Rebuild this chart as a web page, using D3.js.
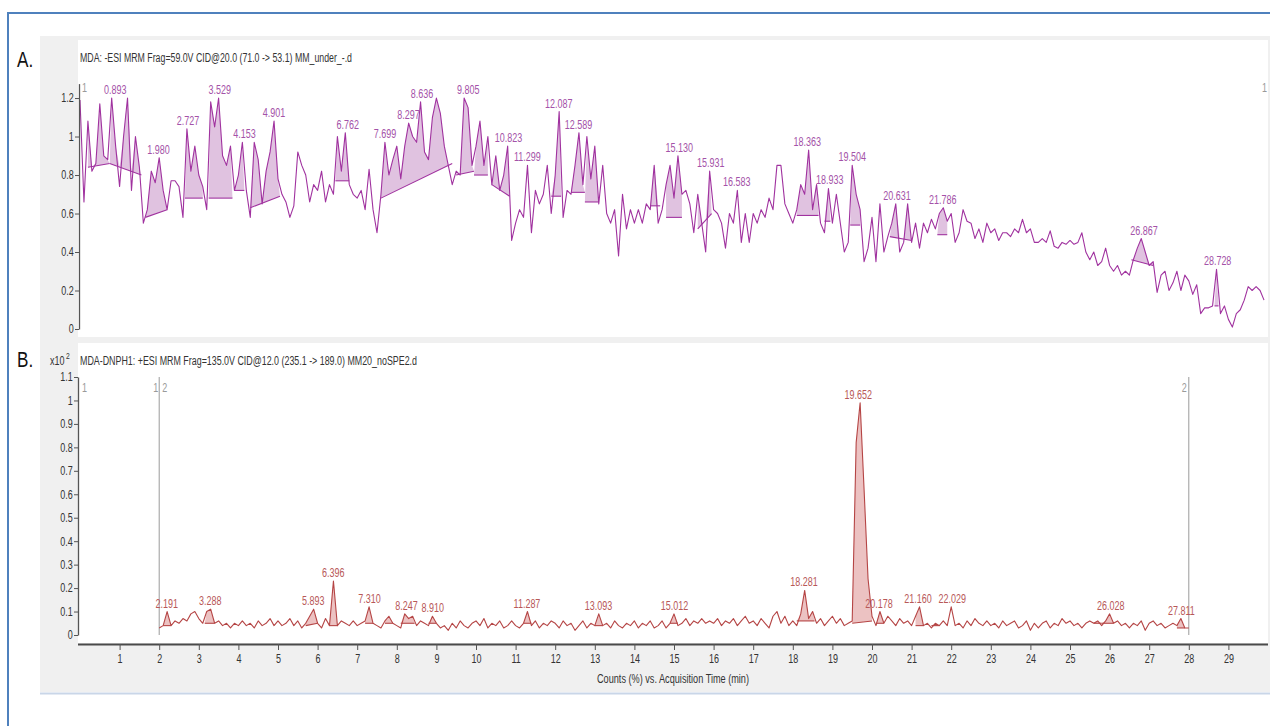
<!DOCTYPE html>
<html>
<head>
<meta charset="utf-8">
<script src="https://cdn.jsdelivr.net/npm/d3@7"></script>
<style>
  body { margin: 0; background: #fff; }
  svg { display: block; }
  text { font-family: "Liberation Sans", Arial, sans-serif; }
</style>
</head>
<body>
<svg id="chart" width="1270" height="726"></svg>
<script>
// Sampling interval of both traces (min)
const timeStep = 0.1;

// Trace A: MDA, -ESI MRM 71.0 -> 53.1, counts (%) from 0.0 min
const mdaStart = 0.0;
const mdaCounts = [
  1.19, 0.66, 1.08, 0.82, 0.86, 1.17, 0.90, 0.88, 1.20, 0.95,
  0.74, 1.00, 1.20, 0.72, 1.00, 0.84, 0.55, 0.62, 0.82, 0.76,
  0.89, 0.72, 0.62, 0.77, 0.77, 0.74, 0.58, 1.04, 0.82, 0.95,
  0.80, 0.74, 0.62, 1.18, 1.05, 1.20, 0.90, 0.85, 0.95, 0.72,
  0.80, 0.97, 0.72, 0.58, 0.97, 0.88, 0.65, 0.82, 0.92, 1.08,
  0.78, 0.70, 0.66, 0.58, 0.64, 0.92, 0.85, 0.80, 0.66, 0.75,
  0.72, 0.82, 0.66, 0.75, 0.70, 1.00, 0.82, 1.02, 0.75, 0.70,
  0.68, 0.72, 0.62, 0.83, 0.62, 0.50, 0.70, 0.97, 0.80, 0.88,
  0.95, 0.78, 0.95, 1.07, 1.00, 0.97, 1.18, 0.92, 0.88, 1.10,
  1.20, 1.12, 0.95, 0.85, 0.75, 0.82, 0.80, 1.20, 1.15, 0.85,
  0.95, 1.08, 0.85, 1.00, 0.75, 0.90, 0.72, 0.80, 0.95, 0.46,
  0.55, 0.62, 0.58, 0.85, 0.50, 0.72, 0.65, 0.70, 0.85, 0.60,
  0.80, 1.13, 0.58, 0.72, 0.70, 0.85, 1.02, 0.75, 1.00, 0.78,
  0.95, 0.65, 0.85, 0.60, 0.55, 0.62, 0.38, 0.70, 0.52, 0.62,
  0.55, 0.62, 0.55, 0.65, 0.62, 0.85, 0.55, 0.62, 0.75, 0.85,
  0.68, 0.90, 0.70, 0.72, 0.65, 0.50, 0.70, 0.55, 0.40, 0.82,
  0.62, 0.60, 0.55, 0.42, 0.60, 0.55, 0.72, 0.45, 0.60, 0.45,
  0.60, 0.55, 0.62, 0.58, 0.68, 0.62, 0.85, 0.85, 0.65, 0.60,
  0.55, 0.62, 0.75, 0.70, 0.93, 0.62, 0.75, 0.55, 0.50, 0.73,
  0.55, 0.70, 0.55, 0.40, 0.45, 0.85, 0.70, 0.62, 0.35, 0.42,
  0.58, 0.35, 0.65, 0.40, 0.48, 0.55, 0.65, 0.40, 0.45, 0.65,
  0.45, 0.55, 0.42, 0.55, 0.50, 0.57, 0.52, 0.60, 0.63, 0.56,
  0.60, 0.45, 0.50, 0.62, 0.56, 0.55, 0.47, 0.52, 0.45, 0.55,
  0.50, 0.52, 0.46, 0.50, 0.50, 0.48, 0.52, 0.50, 0.57, 0.50,
  0.52, 0.45, 0.45, 0.47, 0.45, 0.51, 0.43, 0.42, 0.45, 0.44,
  0.46, 0.44, 0.45, 0.50, 0.40, 0.36, 0.40, 0.33, 0.35, 0.42,
  0.33, 0.30, 0.33, 0.28, 0.30, 0.28, 0.36, 0.42, 0.47, 0.40,
  0.33, 0.35, 0.19, 0.28, 0.30, 0.20, 0.24, 0.30, 0.20, 0.28,
  0.25, 0.18, 0.23, 0.08, 0.11, 0.11, 0.12, 0.31, 0.08, 0.12,
  0.05, 0.01, 0.08, 0.10, 0.15, 0.22, 0.20, 0.22, 0.20, 0.15
];

// Integrated peaks of trace A: [start, end, baseline at start, baseline at end]
const mdaPeakAreas = [
  [0.2, 0.75, 0.84, 0.86], [0.75, 1.55, 0.86, 0.80], [1.65, 2.2, 0.58, 0.62],
  [2.65, 3.1, 0.68, 0.68], [3.25, 3.85, 0.68, 0.68], [3.9, 4.15, 0.72, 0.72],
  [4.3, 5.05, 0.63, 0.69], [6.45, 6.8, 0.77, 0.77], [7.6, 9.4, 0.68, 0.86],
  [9.5, 9.95, 0.80, 0.82], [9.95, 10.3, 0.80, 0.80], [10.4, 10.85, 0.75, 0.69],
  [11.9, 12.15, 0.69, 0.69], [12.4, 12.75, 0.71, 0.71], [12.75, 13.1, 0.66, 0.66],
  [14.4, 14.65, 0.64, 0.64], [14.8, 15.2, 0.58, 0.58], [15.6, 15.95, 0.52, 0.60],
  [18.1, 18.65, 0.59, 0.59], [18.8, 18.95, 0.56, 0.56], [19.45, 19.7, 0.54, 0.54],
  [20.45, 21.0, 0.48, 0.46], [21.65, 21.9, 0.49, 0.49], [26.55, 27.1, 0.36, 0.33],
  [28.65, 28.75, 0.12, 0.12]
];

// Labelled retention times of trace A (min)
const mdaPeakTimes = [
  0.893, 1.980, 2.727, 3.529, 4.153, 4.901, 6.762, 7.699, 8.297, 8.636,
  9.805, 10.823, 11.299, 12.087, 12.589, 15.130, 15.931, 16.583, 18.363,
  18.933, 19.504, 20.631, 21.786, 26.867, 28.728
];

// Trace B: MDA-DNPH1, +ESI MRM 235.1 -> 189.0, counts x10^2 from 2.0 min
const dnphStart = 2.0;
const dnphCounts = [
  0.03, 0.04, 0.10, 0.04, 0.06, 0.05, 0.07, 0.06, 0.09, 0.10,
  0.07, 0.05, 0.10, 0.11, 0.05, 0.06, 0.04, 0.05, 0.03, 0.05,
  0.04, 0.06, 0.04, 0.05, 0.03, 0.06, 0.04, 0.05, 0.07, 0.04,
  0.06, 0.04, 0.05, 0.07, 0.04, 0.06, 0.03, 0.05, 0.08, 0.11,
  0.05, 0.03, 0.07, 0.04, 0.23, 0.04, 0.06, 0.05, 0.04, 0.06,
  0.04, 0.05, 0.06, 0.12, 0.05, 0.04, 0.03, 0.06, 0.08, 0.05,
  0.04, 0.03, 0.09, 0.07, 0.08, 0.04, 0.06, 0.05, 0.04, 0.08,
  0.05, 0.03, 0.04, 0.02, 0.05, 0.03, 0.06, 0.04, 0.03, 0.05,
  0.06, 0.04, 0.07, 0.03, 0.05, 0.04, 0.06, 0.03, 0.04, 0.06,
  0.04, 0.03, 0.05, 0.10, 0.04, 0.06, 0.03, 0.05, 0.04, 0.06,
  0.05, 0.03, 0.06, 0.04, 0.05, 0.02, 0.04, 0.06, 0.03, 0.05,
  0.04, 0.09, 0.04, 0.05, 0.03, 0.06, 0.04, 0.03, 0.05, 0.04,
  0.06, 0.03, 0.05, 0.04, 0.06, 0.03, 0.04, 0.06, 0.03, 0.05,
  0.09, 0.04, 0.05, 0.07, 0.04, 0.06, 0.05, 0.07, 0.05, 0.06,
  0.05, 0.07, 0.04, 0.06, 0.05, 0.07, 0.04, 0.06, 0.08, 0.05,
  0.06, 0.04, 0.07, 0.05, 0.03, 0.08, 0.10, 0.05, 0.08, 0.04,
  0.06, 0.04, 0.09, 0.19, 0.07, 0.10, 0.05, 0.07, 0.04, 0.06,
  0.08, 0.05, 0.07, 0.04, 0.05, 0.06, 0.82, 0.99, 0.62, 0.24,
  0.08, 0.04, 0.10, 0.05, 0.08, 0.06, 0.04, 0.07, 0.05, 0.06,
  0.04, 0.08, 0.12, 0.04, 0.05, 0.03, 0.05, 0.04, 0.06, 0.04,
  0.12, 0.04, 0.05, 0.03, 0.06, 0.04, 0.07, 0.05, 0.04, 0.06,
  0.04, 0.05, 0.03, 0.06, 0.04, 0.05, 0.06, 0.03, 0.04, 0.06,
  0.02, 0.05, 0.03, 0.05, 0.06, 0.03, 0.05, 0.04, 0.07, 0.05,
  0.06, 0.04, 0.05, 0.03, 0.05, 0.06, 0.05, 0.06, 0.04, 0.06,
  0.09, 0.05, 0.06, 0.04, 0.05, 0.03, 0.05, 0.04, 0.06, 0.02,
  0.05, 0.06, 0.04, 0.05, 0.03, 0.04, 0.05, 0.04, 0.07, 0.03,
  0.03
];

// Integrated peaks of trace B: [start, end, baseline at start, baseline at end]
const dnphPeakAreas = [
  [2.1, 2.3, 0.04, 0.04], [3.15, 3.4, 0.05, 0.05], [5.7, 6.0, 0.04, 0.05],
  [6.3, 6.5, 0.04, 0.04], [7.2, 7.4, 0.05, 0.05], [7.7, 7.9, 0.05, 0.05],
  [8.1, 8.45, 0.05, 0.05], [8.8, 9.0, 0.05, 0.05], [11.2, 11.4, 0.05, 0.05],
  [13.0, 13.2, 0.04, 0.04], [14.9, 15.1, 0.05, 0.05], [18.1, 18.55, 0.06, 0.06],
  [19.5, 20.0, 0.05, 0.06], [20.1, 20.3, 0.05, 0.05], [21.1, 21.3, 0.04, 0.04],
  [21.5, 21.7, 0.04, 0.04], [25.6, 25.8, 0.05, 0.05], [25.8, 26.1, 0.05, 0.05],
  [27.7, 27.9, 0.03, 0.03]
];

// Labelled retention times of trace B (min)
const dnphPeakTimes = [
  2.191, 3.288, 5.893, 6.396, 7.310, 8.247, 8.910, 11.287, 13.093, 15.012,
  18.281, 19.652, 20.178, 21.160, 22.029, 26.028, 27.811
];

// Axis ticks
const timeTicks = [1, 2, 3, 4, 5, 6, 7, 8, 9, 10, 11, 12, 13, 14, 15, 16, 17, 18, 19, 20,
                   21, 22, 23, 24, 25, 26, 27, 28, 29];
const mdaTicks = [0, 0.2, 0.4, 0.6, 0.8, 1, 1.2];
const dnphTicks = [0, 0.1, 0.2, 0.3, 0.4, 0.5, 0.6, 0.7, 0.8, 0.9, 1, 1.1];

// Text
const mdaTitle = "MDA: -ESI MRM Frag=59.0V CID@20.0 (71.0 -> 53.1) MM_under_-.d";
const dnphTitle = "MDA-DNPH1: +ESI MRM Frag=135.0V CID@12.0 (235.1 -> 189.0) MM20_noSPE2.d";
const xTitle = "Counts (%) vs. Acquisition Time (min)";

// ---------------------------------------------------------------------------
const svg = d3.select("#chart");
const SX = 0.75; // horizontal squeeze applied to small text

const mdaColor = "#a0329f", mdaFill = "#e0c2e0", mdaLabel = "#a452a8";
const dnphColor = "#b54545", dnphFill = "#ecc2c2", dnphLabel = "#b85858";
const markerColor = "#9a9a9a";

const x = d3.scaleLinear().domain([0, 30]).range([80, 1268]);
const yA = d3.scaleLinear().domain([0, 1.275]).range([329, 83.6]);
const yB = d3.scaleLinear().domain([0, 1.1]).range([635, 377]);

const toPoints = (start, vals) =>
  vals.map((v, i) => ({ t: Math.round((start + i * timeStep) * 1000) / 1000, v }));
const mdaPts = toPoints(mdaStart, mdaCounts);
const dnphPts = toPoints(dnphStart, dnphCounts);

function squeezedText(g, px, py, str, opts) {
  return g.append("text")
    .attr("transform", `translate(${px},${py}) scale(${opts.sx || SX},1)`)
    .attr("font-size", opts.size || 12)
    .attr("fill", opts.color || "#333")
    .attr("text-anchor", opts.anchor || "start")
    .text(str);
}

// Frame and panel backgrounds
svg.append("rect").attr("x", 8).attr("y", 13).attr("width", 1275).attr("height", 730)
  .attr("fill", "#fff").attr("stroke", "#4f81bd").attr("stroke-width", 2);
svg.append("rect").attr("x", 40).attr("y", 36).attr("width", 1232).attr("height", 656)
  .attr("fill", "#f0f0f0");
svg.append("line").attr("x1", 40).attr("x2", 1270).attr("y1", 693.5).attr("y2", 693.5)
  .attr("stroke", "#c9d6e8").attr("stroke-width", 2);
svg.append("rect").attr("x", 78).attr("y", 40).attr("width", 1190).attr("height", 297)
  .attr("fill", "#fff");
svg.append("rect").attr("x", 78).attr("y", 343).attr("width", 1190).attr("height", 300)
  .attr("fill", "#fff");

// Panel letters
squeezedText(svg, 17, 67, "A.", { size: 22, sx: 0.78, color: "#111" });
squeezedText(svg, 17, 367, "B.", { size: 22, sx: 0.78, color: "#111" });

// Titles
svg.append("text").attr("x", 80).attr("y", 62).attr("font-size", 12).attr("fill", "#333")
  .attr("textLength", 272).attr("lengthAdjust", "spacingAndGlyphs").text(mdaTitle);
svg.append("text").attr("x", 80).attr("y", 365).attr("font-size", 12).attr("fill", "#333")
  .attr("textLength", 337).attr("lengthAdjust", "spacingAndGlyphs").text(dnphTitle);
squeezedText(svg, 50, 365, "x10", { size: 12 });
squeezedText(svg, 66, 359, "2", { size: 9 });

// Clip regions
const defs = svg.append("defs");
defs.append("clipPath").attr("id", "clipA").append("rect")
  .attr("x", 79).attr("y", 40).attr("width", 1189).attr("height", 297);
defs.append("clipPath").attr("id", "clipB").append("rect")
  .attr("x", 79).attr("y", 343).attr("width", 1189).attr("height", 300);

function drawTrace(clipId, pts, y, areas, color, fill, labelColor, peakTimes) {
  const g = svg.append("g").attr("clip-path", `url(#${clipId})`);
  // integrated peak areas
  areas.forEach(([s, e, b0, b1]) => {
    const base = d3.scaleLinear().domain([s, e]).range([b0, b1]);
    const seg = pts.filter(p => p.t >= s - 1e-9 && p.t <= e + 1e-9);
    const poly = [{ t: s, v: b0 }, ...seg, { t: e, v: b1 }];
    g.append("path")
      .attr("d", d3.area()
        .x(d => x(d.t))
        .y0(d => y(base(d.t)))
        .y1(d => y(Math.max(d.v, base(d.t))))(poly))
      .attr("fill", fill).attr("stroke", "none");
    g.append("line")
      .attr("x1", x(s)).attr("x2", x(e)).attr("y1", y(b0)).attr("y2", y(b1))
      .attr("stroke", color).attr("stroke-width", 1.1);
  });
  // trace
  g.append("path")
    .attr("d", d3.line().x(d => x(d.t)).y(d => y(d.v))(pts))
    .attr("fill", "none").attr("stroke", color).attr("stroke-width", 1.1)
    .attr("stroke-linejoin", "round");
  // retention time labels
  peakTimes.forEach(rt => {
    const near = pts.filter(p => Math.abs(p.t - rt) <= 0.11);
    const apex = d3.max(near, p => p.v);
    squeezedText(svg, x(rt), y(apex) - 4, rt.toFixed(3), { size: 12, color: labelColor, anchor: "middle" });
  });
}

drawTrace("clipA", mdaPts, yA, mdaPeakAreas, mdaColor, mdaFill, mdaLabel, mdaPeakTimes);

// Segment delimiters of trace B
[2, 28].forEach(t => {
  svg.append("line").attr("x1", x(t)).attr("x2", x(t)).attr("y1", yB(1.1)).attr("y2", yB(0))
    .attr("stroke", markerColor).attr("stroke-width", 1);
});

drawTrace("clipB", dnphPts, yB, dnphPeakAreas, dnphColor, dnphFill, dnphLabel, dnphPeakTimes);

// Segment numbers
squeezedText(svg, 82, 92, "1", { size: 12, color: markerColor });
squeezedText(svg, 1262, 92, "1", { size: 12, color: markerColor });
squeezedText(svg, 82, 392, "1", { size: 12, color: markerColor });
squeezedText(svg, x(2) - 6, 392, "1", { size: 12, color: markerColor });
squeezedText(svg, x(2) + 3, 392, "2", { size: 12, color: markerColor });
squeezedText(svg, x(28) - 7, 392, "2", { size: 12, color: markerColor });

// Axes
function styleAxis(g) {
  g.select(".domain").attr("stroke", "#555").attr("stroke-width", 1.3);
  g.selectAll(".tick line").attr("stroke", "#555");
  g.selectAll(".tick text")
    .attr("font-family", "Liberation Sans, Arial, sans-serif")
    .attr("font-size", 12).attr("fill", "#333");
}

const axA = svg.append("g").attr("transform", "translate(79,0)")
  .call(d3.axisLeft(yA).tickValues(mdaTicks).tickSize(4).tickSizeOuter(0).tickFormat(d3.format("~g")));
styleAxis(axA);
axA.selectAll(".tick text").attr("transform", `scale(${SX},1)`).attr("x", -7);

const axB = svg.append("g").attr("transform", "translate(78,0)")
  .call(d3.axisLeft(yB).tickValues(dnphTicks).tickSize(4).tickSizeOuter(0).tickFormat(d3.format("~g")));
styleAxis(axB);
axB.selectAll(".tick text").attr("transform", `scale(${SX},1)`).attr("x", -7);

const axX = svg.append("g").attr("transform", "translate(0,644)")
  .call(d3.axisBottom(x).tickValues(timeTicks).tickSize(6).tickSizeOuter(0).tickFormat(d3.format("d")));
styleAxis(axX);
axX.select(".domain").attr("d", "M78,0.5H1268").attr("stroke-width", 2.2).attr("stroke", "#4a4a4a");
axX.selectAll(".tick text").attr("transform", `scale(${SX},1)`).attr("y", 10).attr("dy", "0.71em");

svg.append("text").attr("x", 673).attr("y", 683).attr("font-size", 12).attr("fill", "#333")
  .attr("text-anchor", "middle").attr("textLength", 152).attr("lengthAdjust", "spacingAndGlyphs")
  .text(xTitle);
</script>
</body>
</html>
